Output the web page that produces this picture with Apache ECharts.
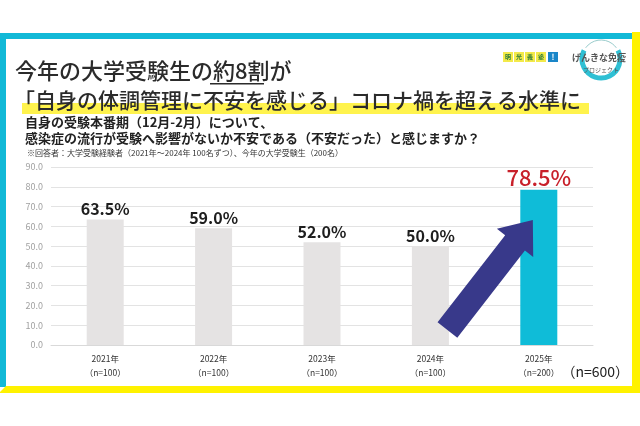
<!DOCTYPE html>
<html><head><meta charset="utf-8">
<script src="https://cdn.jsdelivr.net/npm/echarts@6/dist/echarts.min.js"></script>
<style>html,body{margin:0;padding:0;background:#fff}#c{width:640px;height:426px}</style>
</head><body><div id="c"></div>
<script>
const years = ['2021年','2022年','2023年','2024年','2025年'];
const sampleSizes = ['（n=100）','（n=100）','（n=100）','（n=100）','（n=200）'];
const values = [63.5, 59.0, 52.0, 50.0, 78.5];
const yTicks = [0,10,20,30,40,50,60,70,80,90];

const FONT = '"Noto Sans CJK JP","Noto Sans",sans-serif';
const CYAN = '#12b9d7', YEL = '#fff200';
const chart = echarts.init(document.getElementById('c'));

const barColors = values.map((v,i)=> i===values.length-1 ? '#0fbcd8' : '#e5e3e3');

const frame = [
  {type:'rect', shape:{x:0,y:33,width:633,height:6}, style:{fill:CYAN}, z:1},
  {type:'rect', shape:{x:0,y:33,width:6,height:354}, style:{fill:CYAN}, z:1},
  {type:'rect', shape:{x:632,y:32,width:8,height:361}, style:{fill:YEL}, z:1},
  {type:'polygon', shape:{points:[[0,393],[0,392],[6,386],[640,386],[640,393]]}, style:{fill:YEL}, z:1},
  // title highlight
  {type:'rect', shape:{x:22,y:103,width:567,height:11}, style:{fill:'#fff34d'}, z:1},
  {type:'text', x:15, y:71, style:{text:'今年の大学受験生の約8割が', font:'500 22px '+FONT, fill:'#2b2b2b', textVerticalAlign:'middle'}, z:3},
  {type:'rect', shape:{x:210,y:83,width:54,height:1.5}, style:{fill:'#2b2b2b'}, z:3},
  {type:'text', x:14, y:100, style:{text:'「自身の体調管理に不安を感じる」コロナ禍を超える水準に', font:'500 21px '+FONT, fill:'#2b2b2b', textVerticalAlign:'middle'}, z:3},
  {type:'text', x:25, y:122, style:{text:'自身の受験本番期（12月-2月）について、', font:'bold 13px '+FONT, fill:'#222', textVerticalAlign:'middle'}, z:3},
  {type:'text', x:25, y:138, style:{text:'感染症の流行が受験へ影響がないか不安である（不安だった）と感じますか？', font:'bold 13px '+FONT, fill:'#222', textVerticalAlign:'middle'}, z:3},
  {type:'text', x:27, y:153, style:{text:'※回答者：大学受験経験者（2021年～2024年 100名ずつ）、今年の大学受験生（200名）', font:'8px '+FONT, fill:'#333', textVerticalAlign:'middle'}, z:3},
  {type:'text', x:629, y:372, style:{text:'（n=600）', font:'14px '+FONT, fill:'#222', textAlign:'right', textVerticalAlign:'middle'}, z:3},
  // logo
  ...['明','光','義','塾'].map((ch,i)=>({type:'group', children:[
    {type:'rect', shape:{x:503+i*11,y:52,width:10,height:10}, style:{fill:'#f3ea4a'}},
    {type:'text', x:508+i*11, y:57, style:{text:ch, font:'bold 6px '+FONT, fill:'#2a7a3a', textAlign:'center', textVerticalAlign:'middle'}}
  ]})),
  {type:'rect', shape:{x:548,y:52,width:10,height:10}, style:{fill:'#1a86c8'}, z:3},
  {type:'text', x:553, y:57, style:{text:'!', font:'bold 8px '+FONT, fill:'#fff', textAlign:'center', textVerticalAlign:'middle'}, z:3},
  {type:'arc', shape:{cx:601,cy:59,r:19,startAngle:-0.15*Math.PI,endAngle:1.15*Math.PI}, style:{stroke:'#2fc0d4',lineWidth:5,fill:null}, z:2},
  {type:'arc', shape:{cx:601,cy:59,r:19,startAngle:1.2*Math.PI,endAngle:1.8*Math.PI}, style:{stroke:'#9cc',lineWidth:1,fill:null}, z:2},
  {type:'text', x:599, y:58, style:{text:'げんきな免疫', font:'bold 9px '+FONT, fill:'#555', textAlign:'center', textVerticalAlign:'middle'}, z:3},
  {type:'text', x:601, y:70, style:{text:'プロジェクト', font:'6px '+FONT, fill:'#555', textAlign:'center', textVerticalAlign:'middle'}, z:3}
];

const option = {
  backgroundColor:'#fff',
  animation:false,
  grid:{left:51, right:47, top:167, bottom:81},
  xAxis:{
    type:'category', data:years,
    axisLine:{lineStyle:{color:'#d9d9d9'}},
    axisTick:{show:false},
    axisLabel:{
      margin:7, interval:0,
      formatter:(v,i)=>'{a|'+v+'}\n{b|'+sampleSizes[i]+'}',
      rich:{a:{fontSize:8.5,color:'#333',fontFamily:FONT,lineHeight:14}, b:{fontSize:8.5,color:'#333',fontFamily:FONT,lineHeight:14}}
    }
  },
  yAxis:{
    type:'value', min:yTicks[0], max:yTicks[yTicks.length-1], interval:yTicks[1]-yTicks[0],
    axisLine:{show:false}, axisTick:{show:false},
    axisLabel:{color:'#a0a0a0', fontSize:9, fontFamily:FONT, margin:8, formatter:v=>v.toFixed(1)},
    splitLine:{lineStyle:{color:'#e3e3e3'}}
  },
  series:[{
    type:'bar', barWidth:37, z:2,
    data: values.map((v,i)=>({
      value:v,
      itemStyle:{color:barColors[i]},
      label: i===values.length-1
        ? {fontSize:22, color:'#c8202a', fontWeight:500, distance:1}
        : {fontSize:16, color:'#1e1e1e', fontWeight:'bold', distance:2}
    })),
    label:{show:true, position:'top', fontFamily:FONT, formatter:p=>p.value.toFixed(1)+'%'}
  }],
  graphic: frame
};
chart.setOption(option);

// trend arrow (annotation) anchored to the axes
const arrowTail = {cat:3, shift:0.157, val:7.6};
const arrowTip = {cat:4, shift:-0.055, val:63.2};
function px(a){
  const p0 = chart.convertToPixel({gridIndex:0},[a.cat, a.val]);
  const p1 = chart.convertToPixel({gridIndex:0},[1,0]);
  const pz = chart.convertToPixel({gridIndex:0},[0,0]);
  const band = p1[0]-pz[0];
  return [p0[0]+a.shift*band, p0[1]];
}
const T = px(arrowTail), P = px(arrowTip);
const dx=P[0]-T[0], dy=P[1]-T[1], L=Math.hypot(dx,dy);
const ux=dx/L, uy=dy/L, nx=-uy, ny=ux;
const sh=12.5, hh=23, hl=29;
const B=[P[0]-ux*hl, P[1]-uy*hl];
const pts=[
  [T[0]+nx*sh,T[1]+ny*sh],[B[0]+nx*sh,B[1]+ny*sh],[B[0]+nx*hh,B[1]+ny*hh],P,
  [B[0]-nx*hh,B[1]-ny*hh],[B[0]-nx*sh,B[1]-ny*sh],[T[0]-nx*sh,T[1]-ny*sh]
];
chart.setOption({graphic: frame.concat([{type:'polygon', shape:{points:pts}, style:{fill:'#38398a'}, z:10}])});
</script></body></html>
